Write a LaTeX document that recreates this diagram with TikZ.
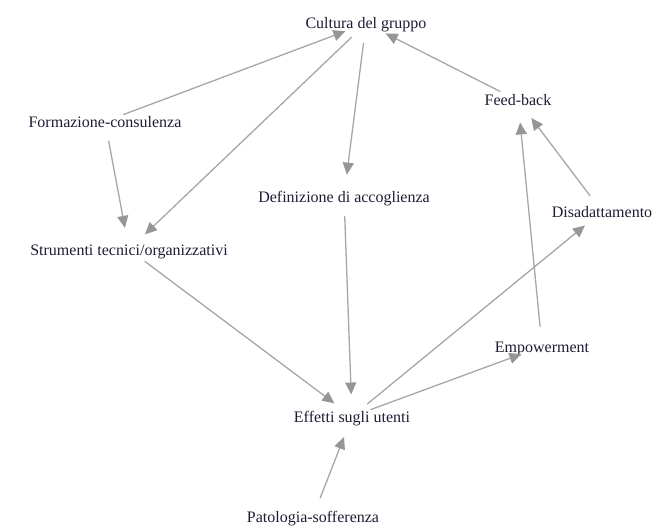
\documentclass[tikz,border=0pt]{standalone}
\usepackage{fontspec}
\setmainfont{Liberation Serif}
\usetikzlibrary{arrows.meta}
\definecolor{linegray}{RGB}{172,164,164}
\definecolor{tipgray}{RGB}{150,150,150}
\definecolor{textblue}{RGB}{30,28,52}

\begin{document}
\begin{tikzpicture}[line cap=round,line join=round,x=1pt,y=-1pt,
    lbl/.style={font=\fontsize{16}{19}\selectfont,text=textblue,inner sep=0pt,text height=11pt,text depth=0pt},
    arr/.style={draw=linegray,line width=1.3pt,shorten <=20pt,shorten >=22pt,
        -{Triangle[length=12pt,width=11pt,color=tipgray]}}]
            \useasboundingbox (0,0) rectangle (659,527);

            \node[lbl] (Cg) at (366,23.5) {Cultura del gruppo};
            \node[lbl] (Fc) at (105,121.5) {Formazione-consulenza};
            \node[lbl] (Fb) at (518,100.5) {Feed-back};
            \node[lbl] (Da) at (344,196.5) {Definizione di accoglienza};
            \node[lbl] (Di) at (602,211.5) {Disadattamento};
            \node[lbl] (St) at (129,249.5) {Strumenti tecnici/organizzativi};
            \node[lbl] (Em) at (542,346.5) {Empowerment};
            \node[lbl] (Eu) at (352,416.5) {Effetti sugli utenti};
            \node[lbl] (Ps) at (313,516.5) {Patologia-sofferenza};

            \draw[arr] (Fc.center) -- (Cg.center);
            \draw[arr] (Fb.center) -- (Cg.center);
            \draw[arr] (Cg.center) -- (St.center);
            \draw[arr] (Cg.center) -- (Da.center);
            \draw[arr] (Fc.center) -- (St.center);
            \draw[arr] (Di.center) -- (Fb.center);
            \draw[arr] (Em.center) -- (Fb.center);
            \draw[arr] (St.center) -- (Eu.center);
            \draw[arr] (Da.center) -- (Eu.center);
            \draw[arr] (Eu.center) -- (Di.center);
            \draw[arr] (Eu.center) -- (Em.center);
            \draw[arr] (Ps.center) -- (Eu.center);
        \end{tikzpicture}
\end{document}
